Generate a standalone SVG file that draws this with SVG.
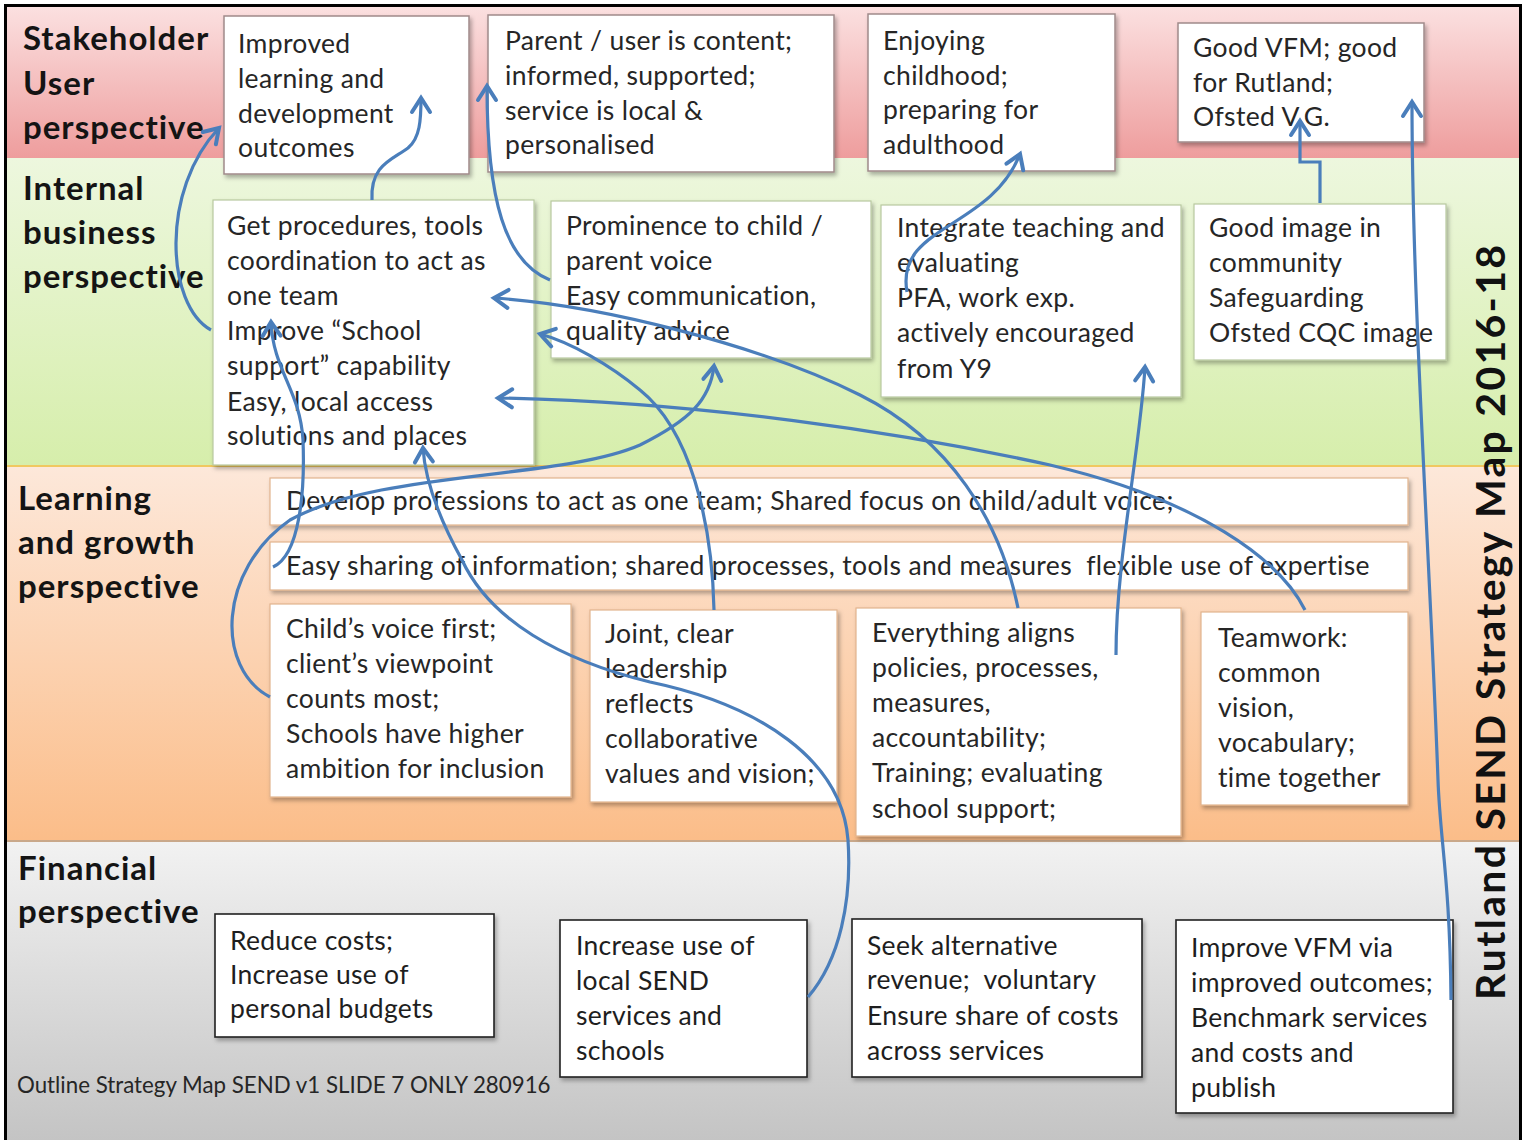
<svg xmlns="http://www.w3.org/2000/svg" width="1523" height="1140" viewBox="0 0 1523 1140">
<defs>
<linearGradient id="gPink" x1="0" y1="0" x2="0" y2="1"><stop offset="0" stop-color="#fbe0e0"/><stop offset="1" stop-color="#ee9d9d"/></linearGradient>
<linearGradient id="gGreen" x1="0" y1="0" x2="0" y2="1"><stop offset="0" stop-color="#edf7de"/><stop offset="1" stop-color="#d6eeab"/></linearGradient>
<linearGradient id="gOrange" x1="0" y1="0" x2="0" y2="1"><stop offset="0" stop-color="#fde8da"/><stop offset="1" stop-color="#fbbd89"/></linearGradient>
<linearGradient id="gGray" x1="0" y1="0" x2="0" y2="1"><stop offset="0" stop-color="#f2f2f2"/><stop offset="1" stop-color="#c4c4c4"/></linearGradient>
<filter id="sh" x="-10%" y="-10%" width="120%" height="130%"><feDropShadow dx="2" dy="3" stdDeviation="2" flood-color="#000" flood-opacity="0.3"/></filter>
<marker id="arr" markerUnits="userSpaceOnUse" markerWidth="24" markerHeight="24" viewBox="0 0 24 24" refX="20" refY="12" orient="auto">
<path d="M6,3 L20,12 L6,21" fill="none" stroke="#4a7ebb" stroke-width="4" stroke-linecap="round" stroke-linejoin="miter"/>
</marker>
<style>
.lbl{font-family:Lato,"Liberation Sans",sans-serif;font-weight:bold;font-size:33px;letter-spacing:1px;fill:#141414}
.t{font-family:Lato,"Liberation Sans",sans-serif;font-size:26.5px;letter-spacing:0.35px;fill:#262626}
.ft{font-family:Lato,"Liberation Sans",sans-serif;font-size:26.5px;letter-spacing:0.3px;fill:#1e1e1e}
.foot{font-family:Lato,"Liberation Sans",sans-serif;font-size:22.3px;fill:#262626}
.title{font-family:Lato,"Liberation Sans",sans-serif;font-weight:bold;font-size:41px;fill:#111}
.bS{fill:#fff;stroke:#a08a8a;stroke-width:1.5;filter:url(#sh)}
.bI{fill:#fff;stroke:#b8c9a0;stroke-width:1.2;filter:url(#sh)}
.bL{fill:#fff;stroke:#e2b48e;stroke-width:1.2;filter:url(#sh)}
.bF{fill:#fff;stroke:#222;stroke-width:1.6;filter:url(#sh)}
.c{fill:none;stroke:#4a7ebb;stroke-width:3.2;marker-end:url(#arr)}
</style>
</defs>

<g id="bands">
<rect x="7" y="7" width="1513" height="151" fill="url(#gPink)"/>
<rect x="7" y="158" width="1513" height="308" fill="url(#gGreen)"/>
<rect x="7" y="466" width="1513" height="374" fill="url(#gOrange)"/>
<rect x="7" y="840" width="1513" height="300" fill="url(#gGray)"/>
<line x1="7" y1="466" x2="1520" y2="466" stroke="#f0c860" stroke-width="2"/>
<line x1="7" y1="841" x2="1520" y2="841" stroke="#c9a88a" stroke-width="2"/>
<rect x="5.5" y="5.5" width="1515" height="1150" fill="none" stroke="#000" stroke-width="3"/>
</g>

<g id="labels">
<text class="lbl" x="23" y="50">Stakeholder</text>
<text class="lbl" x="23" y="95">User</text>
<text class="lbl" x="23" y="139">perspective</text>
<text class="lbl" x="23" y="200">Internal</text>
<text class="lbl" x="23" y="244">business</text>
<text class="lbl" x="23" y="288">perspective</text>
<text class="lbl" x="18" y="510">Learning</text>
<text class="lbl" x="18" y="554">and growth</text>
<text class="lbl" x="18" y="598">perspective</text>
<text class="lbl" x="18" y="880">Financial</text>
<text class="lbl" x="18" y="923">perspective</text>
<text class="title" transform="translate(1505,1000) rotate(-90)" x="0" y="0" textLength="755" lengthAdjust="spacing">Rutland SEND Strategy Map 2016-18</text>
<text class="foot" x="17" y="1093">Outline Strategy Map SEND v1 SLIDE 7 ONLY 280916</text>
</g>

<g id="s1"><rect class="bS" x="224" y="16" width="245" height="158"/>
<text class="t"><tspan x="238" y="53">Improved</tspan><tspan x="238" y="88">learning and</tspan><tspan x="238" y="123">development</tspan><tspan x="238" y="157">outcomes</tspan></text></g>
<g id="s2"><rect class="bS" x="488" y="15" width="346" height="157"/>
<text class="t"><tspan x="505" y="50">Parent / user is content;</tspan><tspan x="505" y="85">informed, supported;</tspan><tspan x="505" y="120">service is local &amp;</tspan><tspan x="505" y="154">personalised</tspan></text></g>
<g id="s3"><rect class="bS" x="868" y="14" width="247" height="157"/>
<text class="t"><tspan x="883" y="50">Enjoying</tspan><tspan x="883" y="85">childhood;</tspan><tspan x="883" y="119">preparing for</tspan><tspan x="883" y="154">adulthood</tspan></text></g>
<g id="s4"><rect class="bS" x="1178" y="23" width="246" height="119"/>
<text class="t"><tspan x="1193" y="57">Good VFM; good</tspan><tspan x="1193" y="92">for Rutland;</tspan><tspan x="1193" y="126">Ofsted V.G.</tspan></text></g>

<g id="i1"><rect class="bI" x="213" y="200" width="321" height="265"/>
<text class="t"><tspan x="227" y="235">Get procedures, tools</tspan><tspan x="227" y="270">coordination to act as</tspan><tspan x="227" y="305">one team</tspan><tspan x="227" y="340">Improve “School</tspan><tspan x="227" y="375">support” capability</tspan><tspan x="227" y="411">Easy, local access</tspan><tspan x="227" y="445">solutions and places</tspan></text></g>
<g id="i2"><rect class="bI" x="551" y="201" width="320" height="157"/>
<text class="t"><tspan x="566" y="235">Prominence to child /</tspan><tspan x="566" y="270">parent voice</tspan><tspan x="566" y="305">Easy communication,</tspan><tspan x="566" y="340">quality advice</tspan></text></g>
<g id="i3"><rect class="bI" x="881" y="205" width="300" height="192"/>
<text class="t"><tspan x="897" y="237">Integrate teaching and</tspan><tspan x="897" y="272">evaluating</tspan><tspan x="897" y="307">PFA, work exp.</tspan><tspan x="897" y="342">actively encouraged</tspan><tspan x="897" y="378">from Y9</tspan></text></g>
<g id="i4"><rect class="bI" x="1194" y="204" width="252" height="156"/>
<text class="t"><tspan x="1209" y="237">Good image in</tspan><tspan x="1209" y="272">community</tspan><tspan x="1209" y="307">Safeguarding</tspan><tspan x="1209" y="342">Ofsted CQC image</tspan></text></g>

<g id="l1"><rect class="bL" x="270" y="478" width="1138" height="47"/>
<text class="t" x="286" y="510">Develop professions to act as one team; Shared focus on child/adult voice;</text></g>
<g id="l2"><rect class="bL" x="270" y="542" width="1138" height="48"/>
<text class="t" x="286" y="575" xml:space="preserve">Easy sharing of information; shared processes, tools and measures  flexible use of expertise</text></g>
<g id="l3"><rect class="bL" x="270" y="604" width="301" height="193"/>
<text class="t"><tspan x="286" y="638">Child’s voice first;</tspan><tspan x="286" y="673">client’s viewpoint</tspan><tspan x="286" y="708">counts most;</tspan><tspan x="286" y="743">Schools have higher</tspan><tspan x="286" y="778">ambition for inclusion</tspan></text></g>
<g id="l4"><rect class="bL" x="590" y="610" width="247" height="192"/>
<text class="t"><tspan x="605" y="643">Joint, clear</tspan><tspan x="605" y="678">leadership</tspan><tspan x="605" y="713">reflects</tspan><tspan x="605" y="748">collaborative</tspan><tspan x="605" y="783">values and vision;</tspan></text></g>
<g id="l5"><rect class="bL" x="856" y="608" width="325" height="228"/>
<text class="t"><tspan x="872" y="642">Everything aligns</tspan><tspan x="872" y="677">policies, processes,</tspan><tspan x="872" y="712">measures,</tspan><tspan x="872" y="747">accountability;</tspan><tspan x="872" y="782">Training; evaluating</tspan><tspan x="872" y="818">school support;</tspan></text></g>
<g id="l6"><rect class="bL" x="1201" y="612" width="207" height="193"/>
<text class="t"><tspan x="1218" y="647">Teamwork:</tspan><tspan x="1218" y="682">common</tspan><tspan x="1218" y="717">vision,</tspan><tspan x="1218" y="752">vocabulary;</tspan><tspan x="1218" y="787">time together</tspan></text></g>

<g id="f1"><rect class="bF" x="215" y="914" width="279" height="123"/>
<text class="ft"><tspan x="230" y="950">Reduce costs;</tspan><tspan x="230" y="984">Increase use of</tspan><tspan x="230" y="1018">personal budgets</tspan></text></g>
<g id="f2"><rect class="bF" x="560" y="920" width="247" height="157"/>
<text class="ft"><tspan x="576" y="955">Increase use of</tspan><tspan x="576" y="990">local SEND</tspan><tspan x="576" y="1025">services and</tspan><tspan x="576" y="1060">schools</tspan></text></g>
<g id="f3"><rect class="bF" x="852" y="919" width="290" height="158"/>
<text class="ft" xml:space="preserve"><tspan x="867" y="955">Seek alternative</tspan><tspan x="867" y="989">revenue;  voluntary</tspan><tspan x="867" y="1025">Ensure share of costs</tspan><tspan x="867" y="1060">across services</tspan></text></g>
<g id="f4"><rect class="bF" x="1176" y="920" width="277" height="193"/>
<text class="ft"><tspan x="1191" y="957">Improve VFM via</tspan><tspan x="1191" y="992">improved outcomes;</tspan><tspan x="1191" y="1027">Benchmark services</tspan><tspan x="1191" y="1062">and costs and</tspan><tspan x="1191" y="1097">publish</tspan></text></g>

<g id="connectors">
<path class="c" d="M211,330 C166,305 160,190 219,128"/>
<path class="c" d="M372,200 C370,165 392,160 408,148 C420,138 421,120 421,98"/>
<path class="c" d="M550,280 C505,262 487,200 487,86"/>
<path class="c" d="M907,292 C895,225 990,230 1020,154"/>
<path class="c" d="M1320,203 L1320,162 L1300,162 L1300,121"/>
<path class="c" d="M1451,1000 C1450,880 1440,840 1438,780 C1430,560 1412,300 1412,102"/>
<path class="c" d="M270,697 C215,668 218,570 290,520 C380,470 560,480 640,445 C690,420 710,400 714,366"/>
<path class="c" d="M273,567 C300,555 305,490 303,440 C300,390 273,370 271,322"/>
<path class="c" d="M808,997 C840,960 852,900 848,840 C842,760 760,705 650,682 C560,660 490,620 462,560 C440,520 425,480 423,448"/>
<path class="c" d="M1018,608 C1000,520 950,440 860,395 C760,345 600,305 494,298"/>
<path class="c" d="M714,610 C712,520 690,430 640,390 C610,365 570,342 540,334"/>
<path class="c" d="M1305,610 C1280,560 1200,500 1050,465 C900,432 700,402 498,398"/>
<path class="c" d="M1116,655 C1116,560 1140,450 1145,367"/>
</g>
</svg>
